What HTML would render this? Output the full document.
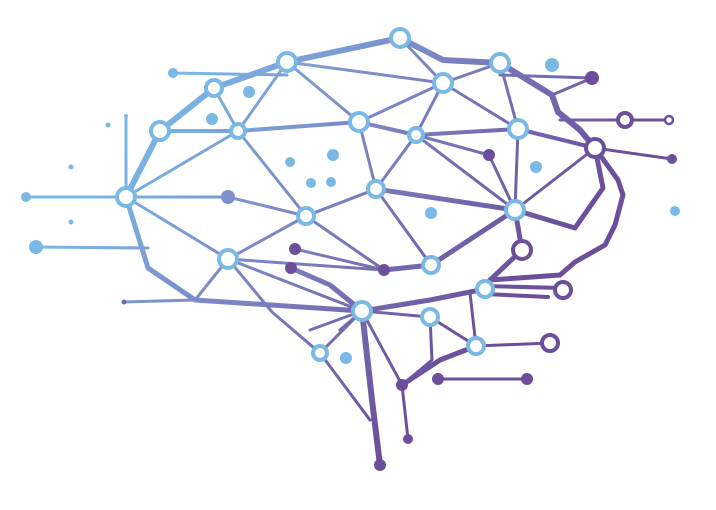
<!DOCTYPE html>
<html><head><meta charset="utf-8"><style>
html,body{margin:0;padding:0;background:#fff;}
svg{display:block;}
</style></head><body>
<svg width="716" height="510" viewBox="0 0 716 510" xmlns="http://www.w3.org/2000/svg">
<defs>
<linearGradient id="g" gradientUnits="userSpaceOnUse" x1="180" y1="80" x2="480" y2="330">
<stop offset="0" stop-color="#7ab8e6"/>
<stop offset="0.45" stop-color="#7c86c4"/>
<stop offset="1" stop-color="#6b4f9a"/>
</linearGradient>
</defs>
<g stroke="url(#g)" fill="none" stroke-linecap="round" stroke-linejoin="round">
<path stroke-width="6" d="M126,197 L160,131 L214,88 L287,62 L400,38 L443,60 L500,63 L552,95 L558,112 L580,130 L595,148"/>
<path stroke-width="5" d="M126,197 L148,268 L195,300 L362,311 L430,300 L485,289"/>
<path stroke-width="5" d="M600,155 L618,180 L623,195 L615,225 L605,245 L575,262 L560,275 L490,280"/>
<path stroke-width="5" d="M595,148 L603,188 L575,228 L515,210 M522,250 L490,280"/>
<path stroke-width="6" d="M362,311 L372,400 L380,465"/>
<path stroke-width="4" d="M160,131 L238,131 L359,122 L416,135 L518,129 L595,148"/>
<path stroke-width="3" d="M287,62 L443,83 L500,63 M400,38 L443,83 L416,135 L376,189 L306,216 L238,131 L214,88"/>
<path stroke-width="3" d="M287,62 L238,131 M287,62 L359,122 L376,189 L431,265 M443,83 L359,122 M443,83 L518,129 L515,210 M500,63 L518,129 M416,135 L515,210 M416,135 L489,155 L515,210 M518,129 L595,148 L515,210"/>
<path stroke-width="3" d="M126,197 L238,131 M126,197 L228,197 L306,216 L228,259 L126,197 M306,216 L376,189 M306,216 L384,270 M228,259 L362,311 L320,353 M228,259 L195,300 M228,259 L272,312 L320,353 M228,259 L384,270 L431,265 M295,249 L384,270 M320,353 L370,420"/>
<path stroke-width="5" d="M376,189 L515,210 M515,210 L431,265 L384,270 M515,210 L522,250 M291,268 L330,285 L362,311"/>
<path stroke-width="4" d="M485,286 L563,288 M485,294 L548,297"/>
<path stroke-width="3" d="M362,311 L402,385 L408,439 M362,311 L430,317 L476,346 L550,343 M430,317 L432,360 L402,385 M470,293 L476,346 M362,311 L310,330 M362,311 L340,330"/>
<path stroke-width="5" d="M402,385 L440,360 L476,346"/>
<path stroke-width="3" d="M438,379 L527,379 M592,78 L500,75 M552,95 L592,78 M595,148 L672,159 M560,120 L625,120 L669,120"/>
<path stroke-width="3" d="M126,197 L26,197 M148,248 L36,247 M126,197 L126,116 M195,300 L124,302 M173,73 L287,75"/>
</g>
<g fill="#7ab8e6">
<circle cx="173" cy="73" r="5"/><circle cx="552" cy="65" r="7"/><circle cx="249" cy="92" r="6"/><circle cx="212" cy="119" r="6"/>
<circle cx="333" cy="155" r="6"/><circle cx="290" cy="162" r="5"/><circle cx="311" cy="183" r="5"/><circle cx="331" cy="182" r="5"/>
<circle cx="536" cy="167" r="6"/><circle cx="431" cy="213" r="6"/><circle cx="675" cy="211" r="5"/><circle cx="26" cy="197" r="5"/>
<circle cx="36" cy="247" r="7"/><circle cx="346" cy="358" r="6"/><circle cx="108" cy="125" r="2.5"/><circle cx="126" cy="116" r="2"/>
<circle cx="71" cy="167" r="2.5"/><circle cx="71" cy="222" r="2.5"/><circle cx="124" cy="302" r="2.5" fill="#6b6aaa"/>
<circle cx="228" cy="197" r="7" fill="#7c8fcc"/>
</g>
<g fill="#6b4f9a">
<circle cx="592" cy="78" r="7"/><circle cx="489" cy="155" r="6"/><circle cx="672" cy="159" r="5"/>
<circle cx="295" cy="249" r="6"/><circle cx="291" cy="268" r="6"/><circle cx="384" cy="270" r="6"/>
<circle cx="402" cy="385" r="6"/><circle cx="438" cy="379" r="6"/><circle cx="527" cy="379" r="6"/>
<circle cx="408" cy="439" r="5"/><circle cx="380" cy="465" r="6"/>
</g>
<g fill="#fff" stroke="#6b4f9a">
<circle cx="595" cy="148" r="9" stroke-width="4"/><circle cx="522" cy="250" r="9" stroke-width="4"/>
<circle cx="563" cy="290" r="8" stroke-width="4"/><circle cx="550" cy="343" r="8" stroke-width="4"/>
<circle cx="625" cy="120" r="7" stroke-width="4"/><circle cx="669" cy="120" r="4" stroke-width="2.5"/>
</g>
<g fill="#fff" stroke="#7ab8e6" stroke-width="4">
<circle cx="400" cy="38" r="9"/><circle cx="287" cy="62" r="9"/><circle cx="500" cy="63" r="9"/>
<circle cx="214" cy="88" r="8"/><circle cx="443" cy="83" r="9"/><circle cx="160" cy="131" r="9"/>
<circle cx="238" cy="131" r="7"/><circle cx="359" cy="122" r="9"/><circle cx="416" cy="135" r="7"/>
<circle cx="518" cy="129" r="9"/><circle cx="126" cy="197" r="9"/><circle cx="376" cy="189" r="8"/>
<circle cx="306" cy="216" r="8"/><circle cx="515" cy="210" r="9"/><circle cx="228" cy="259" r="9"/>
<circle cx="431" cy="265" r="8"/><circle cx="485" cy="289" r="8"/><circle cx="362" cy="311" r="9"/>
<circle cx="430" cy="317" r="8"/><circle cx="476" cy="346" r="8"/><circle cx="320" cy="353" r="7"/>
</g>
</svg>
</body></html>
